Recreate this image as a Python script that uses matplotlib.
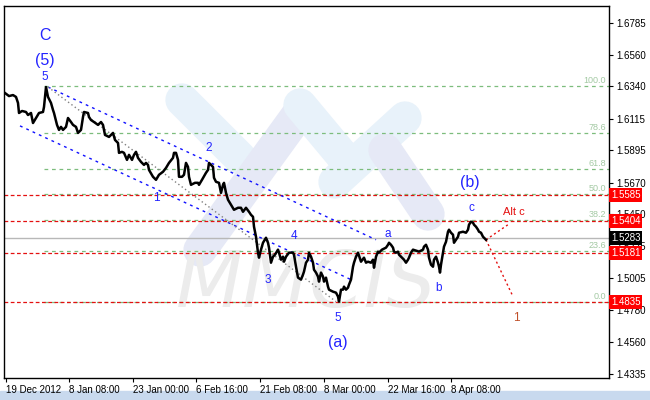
import matplotlib.pyplot as plt
import matplotlib.transforms as mtransforms

# H4 bars, index counted from the first bar on screen
bar = [0, 4, 8, 11, 13, 14, 17, 21, 23, 26, 28, 31, 34, 38, 39, 41, 43, 46, 48, 49,
       52, 54, 56, 58, 61, 63, 66, 68, 71, 73, 76, 78, 79, 83, 84, 86, 89, 93, 96, 98,
       100, 104, 106, 108, 110, 113, 114, 117, 119, 122, 124, 127, 129, 131, 133, 136, 139, 141, 143, 144,
       148, 151, 154, 158, 161, 164, 168, 169, 171, 173, 174, 177, 179, 181, 183, 184, 186, 190, 193, 194,
       197, 201, 203, 204, 206, 208, 209, 211, 214, 216, 218, 219, 221, 223, 226, 229, 233, 236, 238, 241,
       244, 246, 248, 249, 251, 253, 254, 256, 258, 261, 263, 264, 266, 268, 270, 273, 274, 276, 278, 279,
       281, 284, 288, 289, 291, 293, 296, 298, 299, 301, 303, 304, 306, 308, 309, 311, 313, 314, 316, 318,
       319, 321, 323, 324, 328, 331, 333, 334, 336, 338, 339, 341, 343, 344, 346, 348, 349, 351, 353, 356,
       359, 361, 363, 366, 368, 369, 371, 373, 374, 377, 381, 383, 384, 386, 388, 389, 391, 393, 394, 396,
       399, 401, 403, 404, 406, 408, 411, 414, 418, 419, 421, 423, 424, 426, 428, 429, 431, 433, 434, 435,
       436, 438, 439, 441, 443, 444, 446, 448, 449, 451, 453, 454, 458, 461, 463, 464, 466, 468, 469, 471,
       473, 474, 476, 478, 479, 481]
close = [1.6294, 1.6273, 1.6280, 1.6267, 1.6225, 1.6155, 1.6169, 1.6162, 1.6141, 1.6155,
         1.6085, 1.6120, 1.6155, 1.6162, 1.6197, 1.6336, 1.6267, 1.6225, 1.6176, 1.6155,
         1.6072, 1.6037, 1.6058, 1.6037, 1.6058, 1.6120, 1.6092, 1.6072, 1.6058, 1.6016,
         1.6037, 1.6127, 1.6162, 1.6155, 1.6127, 1.6106, 1.6092, 1.6072, 1.6092, 1.6072,
         1.6002, 1.5988, 1.6002, 1.6016, 1.5967, 1.5946, 1.5877, 1.5884, 1.5877, 1.5828,
         1.5863, 1.5828, 1.5863, 1.5884, 1.5842, 1.5814, 1.5793, 1.5807, 1.5793, 1.5758,
         1.5710, 1.5689, 1.5724, 1.5745, 1.5772, 1.5807, 1.5842, 1.5877, 1.5877, 1.5828,
         1.5710, 1.5710, 1.5724, 1.5807, 1.5779, 1.5710, 1.5654, 1.5668, 1.5668, 1.5654,
         1.5689, 1.5738, 1.5758, 1.5807, 1.5793, 1.5779, 1.5703, 1.5675, 1.5668, 1.5598,
         1.5654, 1.5668, 1.5598, 1.5550, 1.5515, 1.5480, 1.5494, 1.5494, 1.5466, 1.5494,
         1.5466, 1.5445, 1.5431, 1.5362, 1.5292, 1.5181, 1.5146, 1.5202, 1.5250, 1.5285,
         1.5250, 1.5216, 1.5111, 1.5153, 1.5167, 1.5202, 1.5181, 1.5132, 1.5153, 1.5118,
         1.5153, 1.5181, 1.5181, 1.5167, 1.5083, 1.5007, 1.4993, 1.5028, 1.5049, 1.5111,
         1.5132, 1.5181, 1.5153, 1.5111, 1.5062, 1.5042, 1.5014, 1.4979, 1.5042, 1.5014,
         1.4979, 1.5007, 1.4944, 1.4923, 1.4909, 1.4902, 1.4875, 1.4840, 1.4923, 1.4923,
         1.4944, 1.4923, 1.4937, 1.4958, 1.4993, 1.5083, 1.5111, 1.5153, 1.5181, 1.5118,
         1.5146, 1.5111, 1.5118, 1.5111, 1.5132, 1.5076, 1.5153, 1.5188, 1.5181, 1.5202,
         1.5216, 1.5236, 1.5250, 1.5236, 1.5216, 1.5188, 1.5181, 1.5188, 1.5167, 1.5153,
         1.5132, 1.5111, 1.5132, 1.5146, 1.5181, 1.5202, 1.5195, 1.5188, 1.5202, 1.5223,
         1.5236, 1.5202, 1.5146, 1.5097, 1.5083, 1.5132, 1.5153, 1.5111, 1.5083, 1.5042,
         1.5097, 1.5181, 1.5223, 1.5257, 1.5327, 1.5341, 1.5320, 1.5306, 1.5250, 1.5271,
         1.5292, 1.5320, 1.5327, 1.5320, 1.5341, 1.5376, 1.5397, 1.5390, 1.5376, 1.5362,
         1.5341, 1.5327, 1.5320, 1.5292, 1.5285, 1.5271]

xtick_bars = [1, 64, 128, 191, 255, 319, 383, 446]
xtick_text = ['19 Dec 2012', '8 Jan 08:00', '23 Jan 00:00', '6 Feb 16:00',
              '21 Feb 08:00', '8 Mar 00:00', '22 Mar 16:00', '8 Apr 08:00']
ytick_vals = [1.6785, 1.6560, 1.6340, 1.6115, 1.5895, 1.5670, 1.5450, 1.5225,
              1.5005, 1.4780, 1.4560, 1.4335]

# fibonacci grid from the high of wave 5 to the low of wave (a)
fib_start_bar = 39
fib_hi, fib_lo = 1.6340, 1.4835
fib_pct = [100.0, 78.6, 61.8, 50.0, 38.2, 23.6, 0.0]

red_levels = [1.5585, 1.5404, 1.5181, 1.4835]
last_price = 1.5283

# wave count labels
wave_bar = [40, 40, 40, 151, 204, 263, 289, 333, 333, 383, 434, 466, 465]
wave_price = [1.6698, 1.6524, 1.6406, 1.5563, 1.5912, 1.4993, 1.5299, 1.4728, 1.4554,
              1.5313, 1.4937, 1.5494, 1.5668]
wave_text = ['C', '(5)', '5', '1', '2', '3', '4', '5', '(a)', 'a', 'b', 'c', '(b)']

# trend lines: (bar0, price0, bar1, price1)
channel_top = (43, 1.6336, 371, 1.5271)
channel_bot = (15, 1.6065, 346, 1.4993)
fib_base = (43, 1.6336, 331, 1.4840)
alt_path = (481, 1.5271, 503, 1.5376)
main_path = (481, 1.5271, 508, 1.4875)

BLUE = '#2424ff'
RED = '#e41010'

fig = plt.figure(figsize=(6.5, 4), dpi=100)
fig.patch.set_facecolor('white')
ax = fig.add_axes([4 / 650, 1 - 378 / 400, 605 / 650, 372 / 400])
ax.set_xlim(-1, 604)
ax.set_ylim(1.4307, 1.6901)
ax.patch.set_alpha(0)


def px(x, y):
    return x / 650, 1 - y / 400


# pale logo watermark behind the chart (figure pixels)
wm = [((182, 100), (240, 158), '#e8f2fa'),
      ((200, 250), (300, 112), '#e6e9f6'),
      ((300, 105), (350, 165), '#e8f2fa'),
      ((335, 182), (405, 118), '#e8f2fa'),
      ((385, 150), (428, 214), '#e6e9f6')]
for (a, b, c) in wm:
    (x0, y0), (x1, y1) = px(*a), px(*b)
    fig.add_artist(plt.Line2D([x0, x1], [y0, y1], transform=fig.transFigure,
                              color=c, lw=24, solid_capstyle='round', zorder=0))
ax.text(0.5, 0.25, 'MMCIS', transform=ax.transAxes, ha='center', va='center',
        fontsize=56, color='#ececec', fontstyle='italic', family='DejaVu Sans',
        zorder=0)

# fibonacci levels
for p in fib_pct:
    level = fib_lo + p / 100 * (fib_hi - fib_lo)
    ax.plot([fib_start_bar, 604], [level, level], color='#7dbd7d', lw=0.9,
            ls=(0, (3, 3)), zorder=1)
    ax.text(601, level + 0.0007, f'{p:.1f}', color='#a3c9a3', fontsize=6.5,
            ha='right', va='bottom', family='Liberation Sans', zorder=2)

for lv in red_levels:
    ax.axhline(lv, color=RED, lw=0.9, ls=(0, (3, 2)), zorder=2)
ax.axhline(last_price, color='#b8b8b8', lw=1, zorder=1)

for seg, col, st in [(channel_top, '#1010ff', (0, (2, 3))),
                     (channel_bot, '#1010ff', (0, (2, 3))),
                     (fib_base, '#808080', (0, (1, 2))),
                     (alt_path, RED, (0, (1.5, 2))),
                     (main_path, RED, (0, (1.5, 2)))]:
    ax.plot([seg[0], seg[2]], [seg[1], seg[3]], color=col, lw=1, ls=st, zorder=3)

ax.plot(bar, close, color='black', lw=1.8, zorder=4)

for b, p, t in zip(wave_bar, wave_price, wave_text):
    big = t.startswith('(') or t == 'C'
    ax.text(b, p, t, color=BLUE, fontsize=11.5 if big else 8.5, ha='center',
            va='center', family='Liberation Sans', zorder=5)
ax.text(509, 1.5466, 'Alt c', color=RED, fontsize=8, ha='center', va='center',
        family='Liberation Sans', zorder=5)
ax.text(511, 1.4728, '1', color='#c0502a', fontsize=8.5, ha='center', va='center',
        family='Liberation Sans', zorder=5)

# axes
ax.yaxis.tick_right()
ax.set_yticks(ytick_vals)
ax.set_yticklabels([f'{v:.4f}' for v in ytick_vals])
ax.set_xticks(xtick_bars)
ax.set_xticklabels(xtick_text, ha='left')
ax.tick_params(axis='both', labelsize=7, length=3, width=0.8, pad=2,
               colors='black')
for lab in ax.get_xticklabels() + ax.get_yticklabels():
    lab.set_family('Liberation Sans')
for s in ax.spines.values():
    s.set_linewidth(1)

trans = mtransforms.blended_transform_factory(ax.transAxes, ax.transData)
for lv in red_levels:
    ax.text(1.003, lv, f'{lv:.4f}', transform=trans, color='white', fontsize=7,
            va='center', ha='left', family='Liberation Sans', zorder=10,
            bbox=dict(boxstyle='square,pad=0.2', fc='#ff0000', ec='none'))
ax.text(1.003, last_price, f'{last_price:.4f}', transform=trans, color='white',
        fontsize=7, va='center', ha='left', family='Liberation Sans', zorder=10,
        bbox=dict(boxstyle='square,pad=0.2', fc='black', ec='none'))

# window chrome: bottom bar
fig.add_artist(plt.Rectangle((0, 0), 1, 9 / 400, transform=fig.transFigure,
                             color='#c8d9ee', zorder=0))

fig.savefig('out.png', dpi=100)
